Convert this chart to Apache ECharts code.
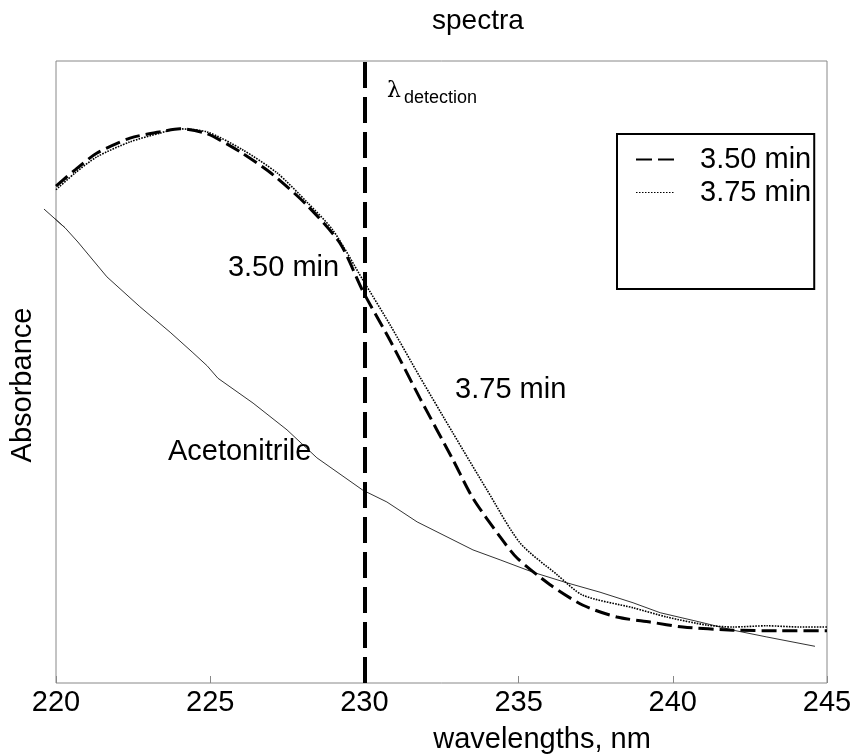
<!DOCTYPE html>
<html><head><meta charset="utf-8">
<script src="https://cdn.jsdelivr.net/npm/echarts/dist/echarts.min.js"></script>
<style>html,body{margin:0;padding:0;background:#fff}#c{width:854px;height:754px}</style>
</head><body><div id="c"></div>
<script>
// ---- data ----
const xTicks = [220, 225, 230, 235, 240, 245];
const detectionWl = 230;

const wl350  = [220.00,220.62,221.33,222.40,223.47,224.02,224.90,225.97,227.04,228.14,229.21,229.95,230.83,231.80,232.87,233.52,234.40,234.95,236.02,237.09,238.19,239.26,240.33,241.95,243.48,245.00];
const abs350 = [0.799,0.825,0.852,0.876,0.887,0.891,0.883,0.854,0.817,0.768,0.707,0.630,0.551,0.458,0.359,0.297,0.235,0.201,0.158,0.125,0.106,0.098,0.090,0.085,0.084,0.084];

const wl375  = [220.00,220.62,221.33,222.40,223.37,223.92,224.90,226.06,227.17,228.14,228.98,229.95,230.83,231.80,232.87,233.98,235.05,236.25,237.09,238.71,239.81,241.11,241.95,243.05,244.12,245.00];
const abs375 = [0.793,0.820,0.846,0.870,0.884,0.891,0.886,0.857,0.820,0.773,0.728,0.648,0.576,0.492,0.402,0.310,0.225,0.174,0.141,0.121,0.106,0.093,0.090,0.092,0.090,0.090];

const wlAcn  = [219.61,220.29,220.71,221.65,222.72,223.70,224.44,224.90,225.25,226.39,227.49,228.46,229.95,230.73,231.71,233.52,234.40,235.47,236.57,237.64,238.71,239.59,240.88,241.95,243.05,244.61];
const absAcn = [0.762,0.732,0.709,0.653,0.605,0.564,0.531,0.510,0.490,0.450,0.407,0.362,0.310,0.291,0.259,0.214,0.198,0.178,0.161,0.146,0.129,0.113,0.098,0.085,0.074,0.059];

const seriesNames = ['3.50 min', '3.75 min', 'Acetonitrile'];
const titleText = 'spectra';
const xName = 'wavelengths, nm';
const yName = 'Absorbance';

// annotation anchors in data coordinates
const notes = [
  {text: '3.50 min', x: 229.18, y: 0.667, align: 'right'},
  {text: '3.75 min', x: 232.94, y: 0.471, align: 'left'},
  {text: 'Acetonitrile', x: 223.63, y: 0.371, align: 'left'}
];
const lambdaNote = {main: 'λ', sub: 'detection', x: 230.73, y: 0.952};

// ---- chart ----
const zip = (a, b) => a.map((v, i) => [v, b[i]]);
const FONT = "'Liberation Sans', Arial, Helvetica, sans-serif";
const HIDDEN = {color: 'rgba(0,0,0,0)', borderWidth: 0, opacity: 0};
const ACN_STYLE = {color: '#333', width: 1};

const chart = echarts.init(document.getElementById('c'), null, {renderer: 'canvas'});
const option = {
  animation: false,
  backgroundColor: '#fff',
  color: ['#000', '#000', '#333'],
  textStyle: {fontFamily: FONT, color: '#000'},
  title: {
    text: titleText, left: 432, top: 7, padding: 0,
    textStyle: {fontFamily: FONT, fontSize: 28, fontWeight: 'normal', color: '#000'}
  },
  grid: {left: 56, right: 27, top: 61, bottom: 71, show: true, borderColor: '#888', borderWidth: 1,
         outerBoundsMode: 'none', containLabel: false},
  legend: {
    orient: 'vertical', left: 617, top: 134,
    padding: [11, 3, 82, 18],
    borderColor: '#000', borderWidth: 2,
    itemWidth: 38, itemHeight: 14, itemGap: 4,
    itemStyle: HIDDEN,
    textStyle: {fontFamily: FONT, fontSize: 29, color: '#000', padding: [0, 0, 0, 21]},
    data: [
      {name: seriesNames[0], itemStyle: HIDDEN, lineStyle: {color: '#000', width: 2, type: [16, 6]}},
      {name: seriesNames[1], itemStyle: HIDDEN, lineStyle: {color: '#000', width: 1, type: [1.5, 1.5]}}
    ]
  },
  xAxis: {
    type: 'value', min: xTicks[0], max: xTicks[xTicks.length - 1], interval: 5,
    axisLine: {show: false},
    axisTick: {show: true, inside: true, length: 7, lineStyle: {color: '#888', width: 1}},
    axisLabel: {fontFamily: FONT, fontSize: 29, color: '#000', margin: 5},
    splitLine: {show: false},
    name: xName, nameLocation: 'middle', nameGap: 42, nameMoveOverlap: false,
    nameTextStyle: {fontFamily: FONT, fontSize: 29, color: '#000', padding: [0, 0, 0, 201]}
  },
  yAxis: {
    type: 'value', min: 0, max: 1,
    axisLine: {show: false}, axisTick: {show: false}, axisLabel: {show: false}, splitLine: {show: false},
    name: yName, nameLocation: 'middle', nameGap: 19, nameMoveOverlap: false,
    nameTextStyle: {fontFamily: FONT, fontSize: 29, color: '#000', padding: [0, 26, 0, 0]}
  },
  series: [
    {
      name: seriesNames[0], type: 'line', data: zip(wl350, abs350), symbol: 'none', z: 3, smooth: 0.25,
      itemStyle: {color: '#000'},
      lineStyle: {color: '#000', width: 3, type: [15, 6]},
      markLine: {
        silent: true, symbol: 'none', label: {show: false}, animation: false,
        lineStyle: {color: '#000', width: 4, type: [26, 9]},
        emphasis: {disabled: true},
        data: [{xAxis: detectionWl}]
      }
    },
    {
      name: seriesNames[1], type: 'line', data: zip(wl375, abs375), symbol: 'none', z: 3, smooth: 0.25,
      itemStyle: {color: '#000'},
      lineStyle: {color: '#000', width: 1.6, type: [1.6, 1.2]}
    },
    {
      name: seriesNames[2], type: 'line', data: zip(wlAcn, absAcn), symbol: 'none', clip: false, z: 2,
      itemStyle: {color: '#333'},
      lineStyle: ACN_STYLE
    }
  ]
};
chart.setOption(option);

const toPx = (x, y) => chart.convertToPixel({gridIndex: 0}, [x, y]);
const graphics = notes.map(n => {
  const p = toPx(n.x, n.y);
  return {type: 'text', x: p[0], y: p[1], z: 10,
    style: {text: n.text, fontFamily: FONT, fontSize: 29, fill: '#000', align: n.align, verticalAlign: 'middle'}};
});
const lp = toPx(lambdaNote.x, lambdaNote.y);
graphics.push({type: 'text', x: lp[0], y: lp[1], z: 10,
  style: {text: lambdaNote.main, fontFamily: "'DejaVu Serif', serif", fontSize: 22, fill: '#000', align: 'left', verticalAlign: 'middle'}});
graphics.push({type: 'text', x: lp[0] + 17, y: lp[1] + 7, z: 10,
  style: {text: lambdaNote.sub, fontFamily: FONT, fontSize: 18, fill: '#000', align: 'left', verticalAlign: 'middle'}});
// the acetonitrile trace begins just left of 220 nm: draw that first segment outside the plot clip
graphics.push({type: 'polyline', z: 2, silent: true,
  shape: {points: [toPx(wlAcn[0], absAcn[0]), toPx(wlAcn[1], absAcn[1])]},
  style: {stroke: ACN_STYLE.color, lineWidth: ACN_STYLE.width, fill: null}});
chart.setOption({graphic: graphics});
</script>
</body></html>
